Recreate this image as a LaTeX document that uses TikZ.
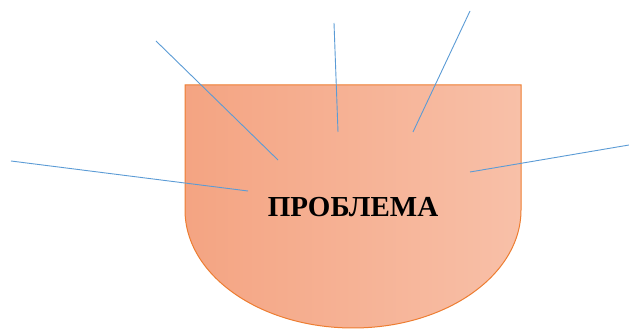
\documentclass[tikz,border=0pt]{standalone}
\usepackage{fontspec}
\setmainfont{Liberation Serif}
\definecolor{shapeleft}{HTML}{F4A482}
\definecolor{shaperight}{HTML}{F8C0A8}
\definecolor{shapeline}{HTML}{ED7D31}
\definecolor{raycol}{HTML}{5B9BD5}

\begin{document}
\begin{tikzpicture}[x=1pt,y=1pt]
				\tikzstyle{ray}=[draw=raycol,line width=0.9pt]
				\tikzstyle{title}=[font=\bfseries\fontsize{29}{32}\selectfont,inner sep=0pt]
				\useasboundingbox (0,0) rectangle (629,329);
				% shape
				\shade[left color=shapeleft,right color=shaperight]
					(185,244) -- (521,244) -- (521,119) arc (0:-180:168 and 118) -- cycle;
				\draw[shapeline,line width=1pt]
					(185,244) -- (521,244) -- (521,119) arc (0:-180:168 and 118) -- cycle;
				\node[title] (prob) at (353,122) {ПРОБЛЕМА};
				% rays
				\coordinate (a1) at (156,288); \coordinate (b1) at (278,169);
				\coordinate (a2) at (334,306); \coordinate (b2) at (338,197);
				\coordinate (a3) at (470,318); \coordinate (b3) at (413,197);
				\coordinate (a4) at (11,168);  \coordinate (b4) at (248,138);
				\coordinate (a5) at (629,184); \coordinate (b5) at (470,157);
				\foreach \i in {1,...,5}
					\draw[ray] (a\i) -- (b\i);
\end{tikzpicture}
\end{document}
